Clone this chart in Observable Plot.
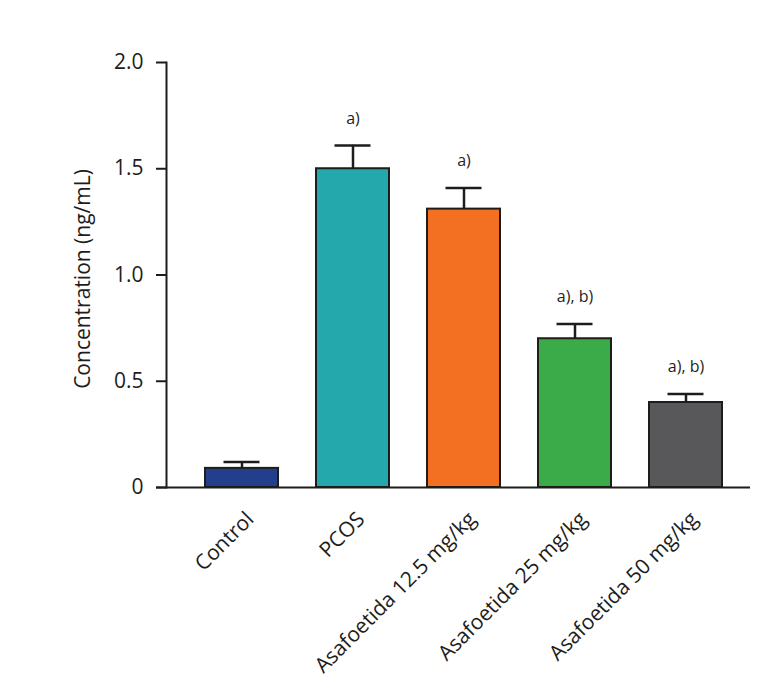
<!DOCTYPE html>
<html>
<head>
<meta charset="utf-8">
<script src="https://cdn.jsdelivr.net/npm/d3@7"></script>
<script src="https://cdn.jsdelivr.net/npm/@observablehq/plot@0.6"></script>
<style>
  html, body { margin: 0; padding: 0; background: #fff; }
  #chart { width: 784px; height: 696px; }
</style>
</head>
<body>
<div id="chart"></div>
<script>
const groups = ["Control", "PCOS", "Asafoetida 12.5 mg/kg", "Asafoetida 25 mg/kg", "Asafoetida 50 mg/kg"];
const means = [0.09, 1.50, 1.31, 0.70, 0.40];
const errors = [0.03, 0.11, 0.10, 0.07, 0.04];
const marks = ["", "a)", "a)", "a), b)", "a), b)"];
const colors = ["#233f8b", "#24a8ab", "#f37022", "#3bab4a", "#58585a"];
const yTicks = [0, 0.5, 1.0, 1.5, 2.0];

const data = groups.map((g, i) => ({group: g, mean: means[i], upper: means[i] + errors[i], mark: marks[i]}));
const ink = "#1d1d1b";
const font = "'Open Sans', 'Noto Sans', sans-serif";

const chart = Plot.plot({
  width: 784,
  height: 696,
  marginLeft: 166,
  marginRight: 34,
  marginTop: 62,
  marginBottom: 209,
  style: {fontFamily: font, color: ink, background: "#fff"},
  x: {domain: groups, range: [165, 763], padding: 0.34, axis: null},
  y: {domain: [0, 2], axis: null},
  color: {domain: groups, range: colors},
  marks: [
    Plot.ruleX(data, {x: "group", y1: "mean", y2: "upper", stroke: ink, strokeWidth: 2.5}),
    Plot.tickY(data, {x: "group", y: "upper", stroke: ink, strokeWidth: 2.5, insetLeft: 18.5, insetRight: 18.5}),
    Plot.barY(data, {x: "group", y: "mean", fill: "group", stroke: ink, strokeWidth: 2}),
    Plot.text(data, {x: "group", y: "upper", text: "mark", dy: -27, fontSize: 16, fill: ink}),
    Plot.ruleY([0], {stroke: ink, strokeWidth: 2, insetLeft: -10}),
    Plot.frame({anchor: "left", stroke: ink, strokeWidth: 2}),
    Plot.axisY({ticks: yTicks, tickFormat: d => d === 0 ? "0" : d.toFixed(1), tickSize: 10, tickPadding: 13, fontSize: 21, stroke: ink, strokeWidth: 2, label: null}),
    Plot.text(groups, {x: d => d, frameAnchor: "bottom", rotate: -45, textAnchor: "end", dx: 13, dy: 33, fontSize: 21, fill: ink}),
    Plot.text(["Concentration (ng/mL)"], {frameAnchor: "left", textAnchor: "middle", dx: -83, dy: 4, rotate: -90, fontSize: 21, fill: ink})
  ]
});
document.getElementById("chart").appendChild(chart);
</script>
</body>
</html>
